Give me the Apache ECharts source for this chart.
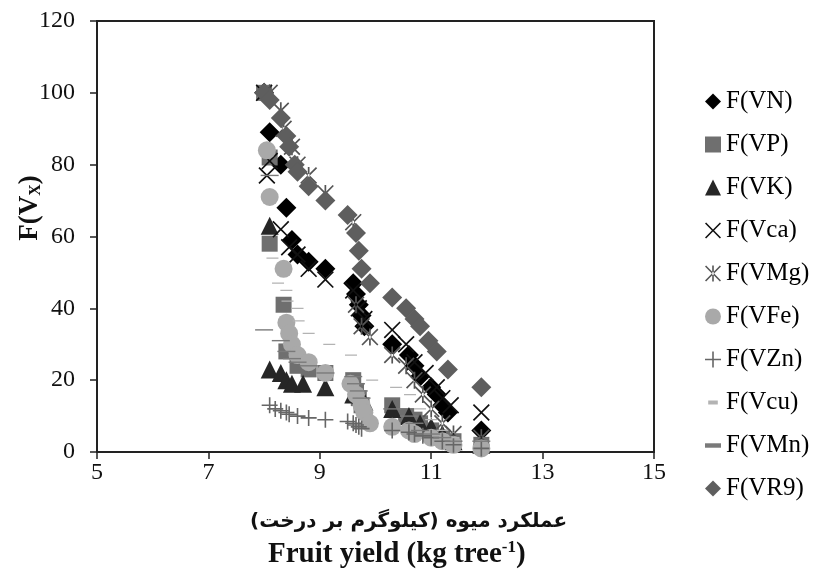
<!DOCTYPE html>
<html>
<head>
<meta charset="utf-8">
<script src="https://cdn.jsdelivr.net/npm/echarts@6/dist/echarts.min.js"></script>
<style>
html, body { margin: 0; padding: 0; background: #fff; }
#chartsdiv { width: 820px; height: 576px; }
</style>
</head>
<body>
<div id="chartsdiv"></div>
<script>
// 数据 (x = fruit yield, y = F(Vx))
var vnData = [[8.0, 100], [8.1, 89], [8.3, 80], [8.4, 68], [8.5, 59], [8.6, 55], [8.8, 53], [9.1, 51], [9.6, 47], [9.65, 44], [9.7, 41], [9.75, 38], [9.8, 35], [10.3, 30], [10.6, 27], [10.7, 24], [10.8, 21], [11.0, 18], [11.1, 16], [11.2, 13], [11.3, 11], [11.9, 6]];
var vpData = [[8.0, 100], [8.1, 82], [8.1, 58], [8.35, 41], [8.4, 28], [8.6, 24], [8.8, 23], [9.1, 22], [9.6, 20], [9.65, 17], [9.7, 15], [9.75, 13], [10.3, 13], [10.55, 10], [10.7, 9], [10.8, 8], [11.0, 6], [11.2, 4], [11.4, 3], [11.9, 2]];
var vkData = [[8.1, 63], [8.1, 23], [8.3, 22], [8.4, 20], [8.5, 19], [8.7, 19], [9.1, 18], [9.6, 16], [9.8, 14], [10.3, 12], [10.6, 10], [10.8, 8], [11.0, 7], [11.2, 5], [11.4, 3], [11.9, 2]];
var vcaData = [[8.0, 100], [8.05, 77], [8.1, 81], [8.3, 62], [8.45, 57], [8.6, 55], [8.8, 51], [9.1, 48], [9.6, 45], [9.7, 40], [9.8, 37], [10.3, 34], [10.55, 30], [10.7, 25], [10.9, 22], [11.1, 18], [11.2, 15], [11.35, 13], [11.9, 11]];
var vmgData = [[8.1, 100], [8.3, 95], [8.35, 90], [8.5, 85], [8.6, 80], [8.8, 77], [9.1, 72], [9.6, 64], [9.65, 41], [9.75, 35], [9.9, 32], [10.3, 27], [10.55, 24], [10.7, 20], [10.85, 16], [11.0, 12], [11.2, 8], [11.4, 5], [11.9, 4]];
var vfeData = [[8.05, 84], [8.1, 71], [8.35, 51], [8.4, 36], [8.45, 33], [8.5, 30], [8.6, 27], [8.8, 25], [9.1, 22], [9.55, 19], [9.65, 16], [9.75, 13], [9.8, 11], [9.9, 8], [10.3, 7], [10.6, 6], [10.7, 5], [11.0, 4], [11.2, 3], [11.4, 2], [11.9, 1]];
var vznData = [[8.1, 13], [8.2, 12], [8.3, 11.5], [8.4, 11], [8.45, 10.5], [8.6, 10], [8.8, 9.5], [9.1, 9], [9.5, 8.5], [9.6, 8], [9.65, 7.5], [9.7, 7], [9.75, 6.5], [10.3, 6], [10.6, 5.5], [10.7, 5], [10.85, 4.5], [11.0, 4], [11.2, 3], [11.4, 2], [11.9, 1]];
var vcuData = [[8.0, 100], [8.15, 54], [8.25, 47], [8.4, 45], [8.42, 42], [8.6, 40], [8.62, 36.5], [8.8, 33], [9.17, 30], [9.56, 27], [9.94, 20], [10.37, 18], [10.62, 16], [10.8, 12], [11.0, 9], [11.2, 6], [11.4, 4], [11.9, 3]];
var vmnData = [[8.0, 100], [8.1, 77], [8.0, 34], [8.3, 31], [8.4, 28], [8.5, 26], [8.6, 25], [8.8, 24], [9.1, 22], [9.6, 21], [9.65, 19], [9.7, 17], [9.75, 15], [10.3, 12], [10.6, 10], [10.7, 8], [10.8, 6], [11.0, 5], [11.2, 4], [11.4, 3], [11.9, 3]];
var vr9Data = [[8.0, 100], [8.1, 98], [8.3, 93], [8.4, 88], [8.45, 85], [8.55, 80], [8.6, 78], [8.8, 74], [9.1, 70], [9.5, 66], [9.65, 61], [9.7, 56], [9.75, 51], [9.9, 47], [10.3, 43], [10.55, 40], [10.7, 37], [10.8, 35], [10.95, 31], [11.1, 28], [11.3, 23], [11.9, 18]];
var xTicks = [5, 7, 9, 11, 13, 15];
var yTicks = [0, 20, 40, 60, 80, 100, 120];

var crossPath = 'path://M0,0.7 L0.7,0 L5,4.3 L9.3,0 L10,0.7 L5.7,5 L10,9.3 L9.3,10 L5,5.7 L0.7,10 L0,9.3 L4.3,5 Z';
var starPath = 'path://M0,0.7 L0.7,0 L5,4.3 L9.3,0 L10,0.7 L5.7,5 L10,9.3 L9.3,10 L5,5.7 L0.7,10 L0,9.3 L4.3,5 Z M4.5,0 L4.5,10 L5.5,10 L5.5,0 Z';
var plusPath = 'path://M4.5,0 L5.5,0 L5.5,4.5 L10,4.5 L10,5.5 L5.5,5.5 L5.5,10 L4.5,10 L4.5,5.5 L0,5.5 L0,4.5 L4.5,4.5 Z';
// 短横 (左右留白, 图例里显得短)
var dashPath = 'path://M0,0 L20,0 L20,0.01 Z M4,0 L16,0 L16,5 L4,5 Z';
var longDashPath = 'path://M0,0 L18,0 L18,5 L0,5 Z';

function mk(name, data, symbol, size, color) {
    return {
        name: name,
        type: 'scatter',
        data: data,
        symbol: symbol,
        symbolSize: size,
        symbolKeepAspect: true,
        itemStyle: { color: color, opacity: 1 },
        emphasis: { disabled: true }
    };
}

var myChart = echarts.init(document.getElementById('chartsdiv'));
var serif = 'Liberation Serif';
var option = {
    animation: false,
    textStyle: { fontFamily: serif },
    grid: { left: 97, right: 166, top: 21, bottom: 124, show: true, borderColor: '#222', borderWidth: 2 },
    legend: {
        orient: 'vertical',
        left: 700,
        top: 84,
        itemGap: 18,
        itemWidth: 16,
        itemHeight: 16,
        textStyle: { fontFamily: serif, fontSize: 25, color: '#000' },
        data: ['F(VN)', 'F(VP)', 'F(VK)', 'F(Vca)', 'F(VMg)', 'F(VFe)', 'F(VZn)', 'F(Vcu)', 'F(VMn)', 'F(VR9)']
    },
    xAxis: {
        type: 'value',
        min: xTicks[0],
        max: xTicks[xTicks.length - 1],
        interval: 2,
        splitLine: { show: false },
        axisLine: { lineStyle: { color: '#222', width: 2 } },
        axisTick: { show: true, inside: false, length: 7, lineStyle: { color: '#222', width: 1.5 } },
        axisLabel: { fontFamily: serif, fontSize: 24, color: '#111', margin: 9 }
    },
    yAxis: {
        type: 'value',
        min: yTicks[0],
        max: yTicks[yTicks.length - 1],
        interval: 20,
        splitLine: { show: false },
        axisLine: { onZero: false, lineStyle: { color: '#222', width: 2 } },
        axisTick: { show: true, inside: false, length: 7, lineStyle: { color: '#222', width: 1.5 } },
        axisLabel: { fontFamily: serif, fontSize: 24, color: '#111', margin: 22 }
    },
    graphic: [
        {
            // y轴标题
            type: 'text', x: 30, y: 208, rotation: Math.PI / 2,
            style: {
                text: '{a|F(V}{b|X}{a|)}',
                align: 'center', verticalAlign: 'middle',
                rich: {
                    a: { fontFamily: serif, fontSize: 27, fontWeight: 'bold', fill: '#111' },
                    b: { fontFamily: serif, fontSize: 16, fontWeight: 'bold', fill: '#111', padding: [12, 0, 0, 0] }
                }
            }
        },
        {
            type: 'text', left: 250, top: 512,
            style: { text: 'عملکرد میوه (کیلوگرم بر درخت)', font: 'bold 20px "DejaVu Sans"', fill: '#111' }
        },
        {
            type: 'text', left: 268, top: 539,
            style: {
                text: '{a|Fruit yield (kg tree}{s|-1}{a|)}',
                rich: {
                    a: { fontFamily: serif, fontSize: 29, fontWeight: 'bold', fill: '#111' },
                    s: { fontFamily: serif, fontSize: 17, fontWeight: 'bold', fill: '#111', padding: [0, 0, 14, 0] }
                }
            }
        }
    ],
    series: [
        mk('F(VN)', vnData, 'diamond', 20, '#000000'),
        mk('F(VP)', vpData, 'rect', 16, '#6f6f6f'),
        mk('F(VK)', vkData, 'triangle', 18, '#262626'),
        mk('F(Vca)', vcaData, crossPath, 17, '#111111'),
        mk('F(VMg)', vmgData, starPath, 17, '#555555'),
        mk('F(VFe)', vfeData, 'circle', 18, '#a9a9a9'),
        mk('F(VZn)', vznData, plusPath, 16, '#666666'),
        mk('F(Vcu)', vcuData, dashPath, [20, 5], '#b3b3b3'),
        mk('F(VMn)', vmnData, longDashPath, [18, 5], '#7a7a7a'),
        mk('F(VR9)', vr9Data, 'diamond', 20, '#5e5e5e')
    ]
};
myChart.setOption(option);
</script>
</body>
</html>
